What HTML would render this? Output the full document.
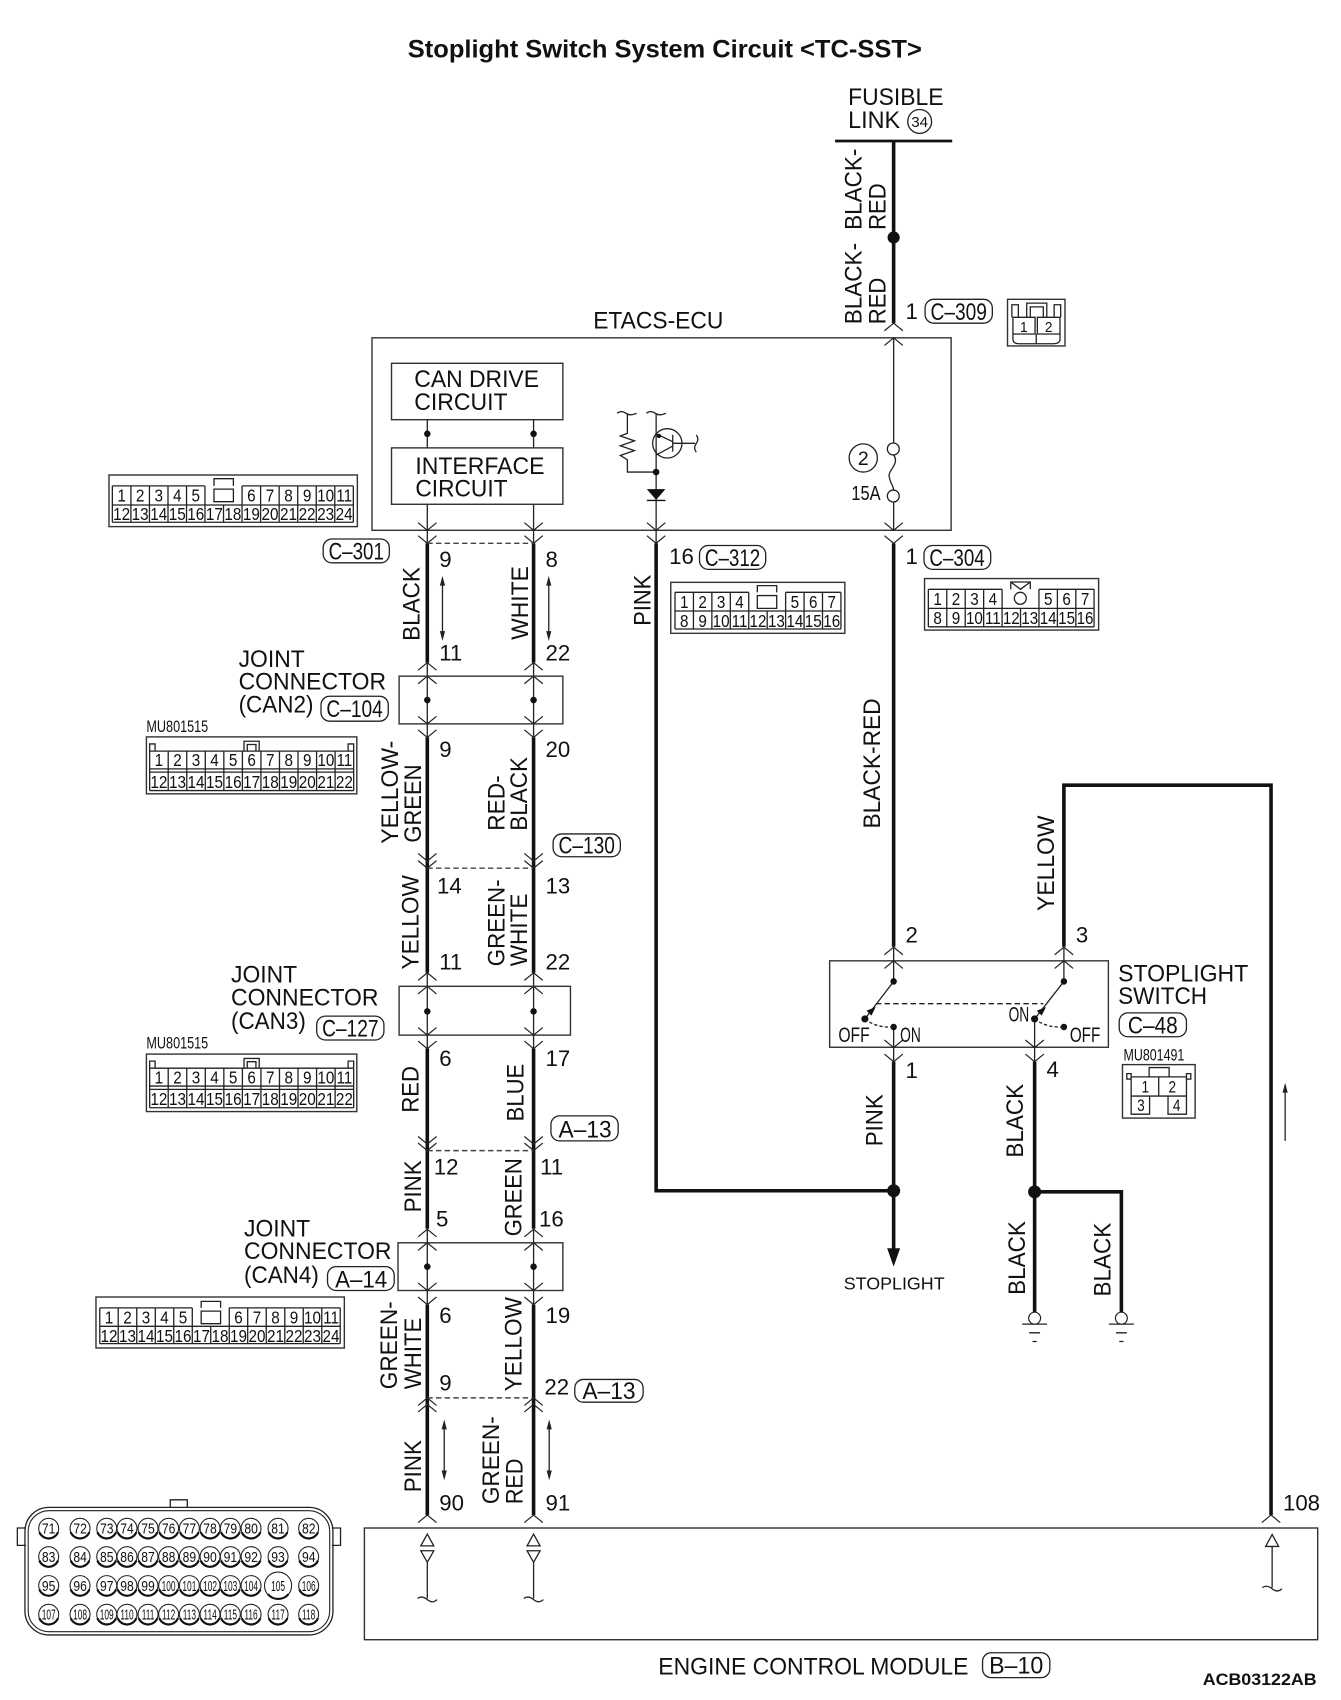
<!DOCTYPE html>
<html><head><meta charset="utf-8"><title>Stoplight Switch System Circuit</title>
<style>
html,body{margin:0;padding:0;background:#fff}
svg{display:block;position:absolute;left:0;top:0}
text{font-family:"Liberation Sans",sans-serif;fill:#111}
.l{font-size:22px}
.n{font-size:20.5px;transform:translateY(-1px)}
.t{font-size:22px}
.c{font-size:16.5px;text-anchor:middle}
.e{font-size:14px;text-anchor:middle}
.thin{fill:none;stroke:#222;stroke-width:1.2}
.box{fill:none;stroke:#333;stroke-width:1.3}
.hv{fill:none;stroke:#111;stroke-width:3.3}
.ch{fill:none;stroke:#222;stroke-width:1.1}
.tag{fill:none;stroke:#222;stroke-width:1.2}
.dash{fill:none;stroke:#444;stroke-width:1.3;stroke-dasharray:5 3}
</style></head><body>
<svg xmlns="http://www.w3.org/2000/svg" width="1341" height="1700" viewBox="0 0 1236.5 1567.6" preserveAspectRatio="none">
<defs>
<path id="d" class="ch" d="M-8.5-7L0 0L8.5-7"/>
<path id="u" class="ch" d="M-8.5 7L0 0L8.5 7"/>
<g id="pin"><circle r="9.2" fill="#fff" stroke="#222" stroke-width="1"/><path d="M-8.6 3.6A9.3 9.3 0 0 0 8.6 3.6" fill="none" stroke="#111" stroke-width="2"/></g>
<g id="gnd"><circle cx="0" cy="-5.5" r="5.5" fill="#fff" stroke="#222" stroke-width="1.1"/><path d="M-11.5 0H11.5M-5 8H5M-2 16H2" stroke="#222" stroke-width="1.2" fill="none"/></g>
</defs>
<rect width="1236.5" height="1567.6" fill="#fff"/>

<!-- Title -->
<text x="376" y="53" font-size="23" font-weight="bold" textLength="474" lengthAdjust="spacingAndGlyphs">Stoplight Switch System Circuit &lt;TC-SST&gt;</text>

<!-- Fusible link -->
<text class="l" x="782" y="97" textLength="88" lengthAdjust="spacingAndGlyphs">FUSIBLE</text>
<text class="l" x="782" y="118" textLength="48" lengthAdjust="spacingAndGlyphs">LINK</text>
<circle cx="848" cy="112" r="11" class="thin"/>
<text x="848" y="117" font-size="14" text-anchor="middle">34</text>
<path d="M770 130H878" stroke="#111" stroke-width="2.6"/>
<path class="hv" d="M824 130V298"/>
<circle cx="824" cy="219" r="5.6" fill="#111"/>
<text class="l" transform="translate(794.5,212) rotate(-90)" textLength="75" lengthAdjust="spacingAndGlyphs">BLACK-</text>
<text class="l" transform="translate(816.5,212) rotate(-90)" textLength="43" lengthAdjust="spacingAndGlyphs">RED</text>
<text class="l" transform="translate(794.5,299) rotate(-90)" textLength="75" lengthAdjust="spacingAndGlyphs">BLACK-</text>
<text class="l" transform="translate(816.5,299) rotate(-90)" textLength="43" lengthAdjust="spacingAndGlyphs">RED</text>
<text class="n" x="835" y="295">1</text>
<rect class="tag" x="853" y="276" width="62" height="22" rx="8"/>
<text class="t" x="858" y="295" textLength="52" lengthAdjust="spacingAndGlyphs">C–309</text>

<!-- C-309 connector -->
<rect class="box" x="929" y="276" width="53" height="43"/>
<path class="thin" d="M934 292.6H954.4V308H934ZM956.5 292.6H977.4V308H956.5ZM934 308V313Q934 317 940 317H971Q977.4 317 977.4 313V308M955.5 308V317M946.7 292.6V279.5H965.2V292.6M950 292.6V283H962V292.6M933 292.6V281H939V292.6M972 292.6V281H978V292.6"/>
<text x="944" y="306" font-size="14" text-anchor="middle" textLength="7" lengthAdjust="spacingAndGlyphs">1</text>
<text x="967" y="306" font-size="14" text-anchor="middle" textLength="7" lengthAdjust="spacingAndGlyphs">2</text>

<!-- ETACS-ECU -->
<text class="l" x="547" y="303" textLength="120" lengthAdjust="spacingAndGlyphs">ETACS-ECU</text>
<rect class="box" x="343" y="311.5" width="534" height="177.5"/>
<rect class="box" x="361" y="335" width="158" height="52"/>
<rect class="box" x="361" y="413" width="158" height="52"/>
<text class="l" x="382" y="357" textLength="115" lengthAdjust="spacingAndGlyphs">CAN DRIVE</text>
<text class="l" x="382" y="378" textLength="86" lengthAdjust="spacingAndGlyphs">CIRCUIT</text>
<text class="l" x="383" y="437" textLength="119" lengthAdjust="spacingAndGlyphs">INTERFACE</text>
<text class="l" x="383" y="458" textLength="85" lengthAdjust="spacingAndGlyphs">CIRCUIT</text>
<path class="thin" d="M394 387V413M492 387V413M394 465V501M492 465V501"/>
<circle cx="394" cy="400" r="3" fill="#111"/><circle cx="492" cy="400" r="3" fill="#111"/>

<!-- transistor section -->
<path class="thin" d="M569 381Q573 378 577 381T587 381M596 381Q600 378 604 381T614 381M578.5 382V399.5L572 402L585 406.5L572 411L585 415.5L572 420L578.5 424V435.3H605M605 382V501"/>
<circle cx="605" cy="435.3" r="3" fill="#111"/>
<circle cx="615.3" cy="408.8" r="13.5" class="thin"/>
<path class="thin" d="M605 400L620.3 407.3M605 419.6L620.3 411.3M620.3 401V416.5M620.3 408.8H641M642 401Q645 405 642 409T642 417"/>
<circle cx="607.6" cy="402" r="2" fill="#111"/>
<path d="M596.4 451H613.6L605 461Z" fill="#111"/><path d="M596.4 461.5H613.6" stroke="#111" stroke-width="1.3"/>

<!-- fuse -->
<path class="thin" d="M824 311V408.5M824 463V489"/>
<circle cx="823.7" cy="414" r="5.5" class="thin"/><circle cx="823.7" cy="457.4" r="5.5" class="thin"/>
<path class="thin" d="M824 419.5C830 428 818 434 820 440C821 446 824 448 824 452"/>
<circle cx="796" cy="422.3" r="13" class="thin"/>
<text x="796" y="429" font-size="18" text-anchor="middle">2</text>
<text x="785" y="461" font-size="19" textLength="27" lengthAdjust="spacingAndGlyphs">15A</text>

<!-- chevrons top/bottom ECU -->
<use href="#u" x="824" y="298"/><use href="#u" x="824" y="311.5"/>
<use href="#d" x="394" y="489"/><use href="#d" x="394" y="501"/>
<use href="#d" x="492" y="489"/><use href="#d" x="492" y="501"/>
<use href="#d" x="605" y="489"/><use href="#d" x="605" y="501"/>
<use href="#d" x="824" y="489"/><use href="#d" x="824" y="501"/>

<!-- C-301 connector -->
<rect class="box" x="100.5" y="438" width="229" height="47.6"/>
<path class="thin" d="M103.6 448H189M223.2 448H325.8M103.6 465.7H325.8M103.6 481.6H325.8M103.6 448V481.6M120.7 448V481.6M137.8 448V481.6M154.9 448V481.6M172 448V481.6M189 448V481.6M206.1 465.7V481.6M223.2 448V481.6M240.3 448V481.6M257.4 448V481.6M274.5 448V481.6M291.6 448V481.6M308.7 448V481.6M325.8 448V481.6"/>
<path class="thin" d="M197.3 448V441.4H215.2V448M197.3 451H215.2V462.6H197.3Z"/>
<g transform="translate(103.6,0) scale(.855,1)">
<text class="c" x="10" y="462.5">1</text><text class="c" x="30" y="462.5">2</text><text class="c" x="50" y="462.5">3</text><text class="c" x="70" y="462.5">4</text><text class="c" x="90" y="462.5">5</text><text class="c" x="150" y="462.5">6</text><text class="c" x="170" y="462.5">7</text><text class="c" x="190" y="462.5">8</text><text class="c" x="210" y="462.5">9</text><text class="c" x="230" y="462.5">10</text><text class="c" x="250" y="462.5">11</text>
<text class="c" x="10" y="479.5">12</text><text class="c" x="30" y="479.5">13</text><text class="c" x="50" y="479.5">14</text><text class="c" x="70" y="479.5">15</text><text class="c" x="90" y="479.5">16</text><text class="c" x="110" y="479.5">17</text><text class="c" x="130" y="479.5">18</text><text class="c" x="150" y="479.5">19</text><text class="c" x="170" y="479.5">20</text><text class="c" x="190" y="479.5">21</text><text class="c" x="210" y="479.5">22</text><text class="c" x="230" y="479.5">23</text><text class="c" x="250" y="479.5">24</text>
</g>

<!-- Main CAN wires -->
<path class="hv" d="M394 501V611M394 680V897M394 967V1133M394 1203V1397M492 501V611M492 680V897M492 967V1133M492 1203V1397"/>
<path class="thin" d="M394 611V680M394 897V967M394 1133V1203M492 611V680M492 897V967M492 1133V1203"/>
<path class="dash" d="M394 501H492M394 800.6H492M394 1061H492M394 1289H492"/>

<rect class="tag" x="298" y="497" width="61" height="22" rx="8"/>
<text class="t" x="303" y="516" textLength="51" lengthAdjust="spacingAndGlyphs">C–301</text>
<text class="n" x="405" y="524">9</text><text class="n" x="503" y="524">8</text>
<text class="l" transform="translate(387,591) rotate(-90)" textLength="68" lengthAdjust="spacingAndGlyphs">BLACK</text>
<text class="l" transform="translate(487,590) rotate(-90)" textLength="68" lengthAdjust="spacingAndGlyphs">WHITE</text>
<path class="thin" d="M408 534V588M506 534V588"/>
<path d="M408 531L405.6 540H410.4ZM408 591L405.6 582H410.4ZM506 531L503.6 540H508.4ZM506 591L503.6 582H508.4Z" fill="#222"/>
<text class="n" x="405" y="610">11</text><text class="n" x="503" y="610">22</text>

<!-- Joint C-104 -->
<use href="#u" x="394" y="611"/><use href="#u" x="394" y="623.5"/><use href="#u" x="492" y="611"/><use href="#u" x="492" y="623.5"/>
<rect class="box" x="368" y="623.5" width="151" height="44"/>
<circle cx="394" cy="645.5" r="3" fill="#111"/><circle cx="492" cy="645.5" r="3" fill="#111"/>
<use href="#d" x="394" y="667.5"/><use href="#d" x="394" y="680"/><use href="#d" x="492" y="667.5"/><use href="#d" x="492" y="680"/>
<text class="l" x="220" y="615" textLength="61" lengthAdjust="spacingAndGlyphs">JOINT</text>
<text class="l" x="220" y="636" textLength="136" lengthAdjust="spacingAndGlyphs">CONNECTOR</text>
<text class="l" x="220" y="657" textLength="69" lengthAdjust="spacingAndGlyphs">(CAN2)</text>
<rect class="tag" x="296" y="642" width="62" height="23" rx="8"/>
<text class="t" x="301" y="661" textLength="52" lengthAdjust="spacingAndGlyphs">C–104</text>

<!-- MU801515 (1) -->
<text x="135" y="675" font-size="15" textLength="57" lengthAdjust="spacingAndGlyphs">MU801515</text>
<rect class="box" x="135" y="679.5" width="194" height="52.5"/>
<path class="thin" d="M138 692.6H326.1M138 709H326.1M138 712H326.1M138 729H326.1M138 692.6V729M155.1 692.6V729M172.2 692.6V729M189.3 692.6V729M206.4 692.6V729M223.5 692.6V729M240.6 692.6V729M257.7 692.6V729M274.8 692.6V729M291.9 692.6V729M309 692.6V729M326.1 692.6V729"/>
<path class="thin" d="M225 692.6V683.5H239V692.6M228 692.6V686.5H236V692.6M138 692.6V686H143V692.6M321 692.6V686H326.1V692.6"/>
<g transform="translate(138,0) scale(.855,1)">
<text class="c" x="10" y="706.5">1</text><text class="c" x="30" y="706.5">2</text><text class="c" x="50" y="706.5">3</text><text class="c" x="70" y="706.5">4</text><text class="c" x="90" y="706.5">5</text><text class="c" x="110" y="706.5">6</text><text class="c" x="130" y="706.5">7</text><text class="c" x="150" y="706.5">8</text><text class="c" x="170" y="706.5">9</text><text class="c" x="190" y="706.5">10</text><text class="c" x="210" y="706.5">11</text>
<text class="c" x="10" y="726.5">12</text><text class="c" x="30" y="726.5">13</text><text class="c" x="50" y="726.5">14</text><text class="c" x="70" y="726.5">15</text><text class="c" x="90" y="726.5">16</text><text class="c" x="110" y="726.5">17</text><text class="c" x="130" y="726.5">18</text><text class="c" x="150" y="726.5">19</text><text class="c" x="170" y="726.5">20</text><text class="c" x="190" y="726.5">21</text><text class="c" x="210" y="726.5">22</text>
</g>

<text class="n" x="405" y="699">9</text><text class="n" x="503" y="699">20</text>
<text class="l" transform="translate(367,778) rotate(-90)" textLength="95" lengthAdjust="spacingAndGlyphs">YELLOW-</text>
<text class="l" transform="translate(388,777) rotate(-90)" textLength="72" lengthAdjust="spacingAndGlyphs">GREEN</text>
<text class="l" transform="translate(465,766) rotate(-90)" textLength="51" lengthAdjust="spacingAndGlyphs">RED-</text>
<text class="l" transform="translate(486,766) rotate(-90)" textLength="68" lengthAdjust="spacingAndGlyphs">BLACK</text>
<rect class="tag" x="510" y="769" width="62" height="21" rx="8"/>
<text class="t" x="515" y="787" textLength="52" lengthAdjust="spacingAndGlyphs">C–130</text>
<use href="#d" x="394" y="794"/><use href="#d" x="394" y="800.6"/><use href="#d" x="492" y="794"/><use href="#d" x="492" y="800.6"/>
<text class="n" x="403" y="825">14</text><text class="n" x="503" y="825">13</text>
<text class="l" transform="translate(386,894) rotate(-90)" textLength="87" lengthAdjust="spacingAndGlyphs">YELLOW</text>
<text class="l" transform="translate(465,891) rotate(-90)" textLength="80" lengthAdjust="spacingAndGlyphs">GREEN-</text>
<text class="l" transform="translate(486,891) rotate(-90)" textLength="67" lengthAdjust="spacingAndGlyphs">WHITE</text>
<text class="n" x="405" y="895">11</text><text class="n" x="503" y="895">22</text>

<!-- Joint C-127 -->
<use href="#u" x="394" y="897"/><use href="#u" x="394" y="909.5"/><use href="#u" x="492" y="897"/><use href="#u" x="492" y="909.5"/>
<rect class="box" x="368" y="909.5" width="158" height="45"/>
<circle cx="394" cy="932.6" r="3" fill="#111"/><circle cx="492" cy="932.6" r="3" fill="#111"/>
<use href="#d" x="394" y="954.5"/><use href="#d" x="394" y="967"/><use href="#d" x="492" y="954.5"/><use href="#d" x="492" y="967"/>
<text class="l" x="213" y="906" textLength="61" lengthAdjust="spacingAndGlyphs">JOINT</text>
<text class="l" x="213" y="927" textLength="136" lengthAdjust="spacingAndGlyphs">CONNECTOR</text>
<text class="l" x="213" y="949" textLength="69" lengthAdjust="spacingAndGlyphs">(CAN3)</text>
<rect class="tag" x="292" y="937" width="62" height="22" rx="8"/>
<text class="t" x="297" y="956" textLength="52" lengthAdjust="spacingAndGlyphs">C–127</text>

<!-- MU801515 (2) -->
<text x="135" y="967" font-size="15" textLength="57" lengthAdjust="spacingAndGlyphs">MU801515</text>
<rect class="box" x="135" y="972" width="194" height="53"/>
<path class="thin" d="M138 985H326.1M138 1001.5H326.1M138 1004.5H326.1M138 1021.5H326.1M138 985V1021.5M155.1 985V1021.5M172.2 985V1021.5M189.3 985V1021.5M206.4 985V1021.5M223.5 985V1021.5M240.6 985V1021.5M257.7 985V1021.5M274.8 985V1021.5M291.9 985V1021.5M309 985V1021.5M326.1 985V1021.5"/>
<path class="thin" d="M225 985V976H239V985M228 985V979H236V985M138 985V978.5H143V985M321 985V978.5H326.1V985"/>
<g transform="translate(138,0) scale(.855,1)">
<text class="c" x="10" y="999">1</text><text class="c" x="30" y="999">2</text><text class="c" x="50" y="999">3</text><text class="c" x="70" y="999">4</text><text class="c" x="90" y="999">5</text><text class="c" x="110" y="999">6</text><text class="c" x="130" y="999">7</text><text class="c" x="150" y="999">8</text><text class="c" x="170" y="999">9</text><text class="c" x="190" y="999">10</text><text class="c" x="210" y="999">11</text>
<text class="c" x="10" y="1019">12</text><text class="c" x="30" y="1019">13</text><text class="c" x="50" y="1019">14</text><text class="c" x="70" y="1019">15</text><text class="c" x="90" y="1019">16</text><text class="c" x="110" y="1019">17</text><text class="c" x="130" y="1019">18</text><text class="c" x="150" y="1019">19</text><text class="c" x="170" y="1019">20</text><text class="c" x="190" y="1019">21</text><text class="c" x="210" y="1019">22</text>
</g>

<text class="n" x="405" y="984">6</text><text class="n" x="503" y="984">17</text>
<text class="l" transform="translate(386,1026) rotate(-90)" textLength="43" lengthAdjust="spacingAndGlyphs">RED</text>
<text class="l" transform="translate(482.5,1034) rotate(-90)" textLength="53" lengthAdjust="spacingAndGlyphs">BLUE</text>
<rect class="tag" x="508" y="1029" width="62" height="23" rx="8"/>
<text class="t" x="515" y="1049" textLength="49" lengthAdjust="spacingAndGlyphs">A–13</text>
<use href="#d" x="394" y="1055"/><use href="#d" x="394" y="1061"/><use href="#d" x="492" y="1055"/><use href="#d" x="492" y="1061"/>
<text class="n" x="400" y="1084">12</text><text class="n" x="498" y="1084">11</text>
<text class="l" transform="translate(388,1118) rotate(-90)" textLength="48" lengthAdjust="spacingAndGlyphs">PINK</text>
<text class="l" transform="translate(481,1140) rotate(-90)" textLength="72" lengthAdjust="spacingAndGlyphs">GREEN</text>
<text class="n" x="402" y="1132">5</text><text class="n" x="497" y="1132">16</text>

<!-- Joint A-14 -->
<use href="#u" x="394" y="1133.5"/><use href="#u" x="394" y="1146"/><use href="#u" x="492" y="1133.5"/><use href="#u" x="492" y="1146"/>
<rect class="box" x="367" y="1146" width="152" height="44"/>
<circle cx="394" cy="1168" r="3" fill="#111"/><circle cx="492" cy="1168" r="3" fill="#111"/>
<use href="#d" x="394" y="1190"/><use href="#d" x="394" y="1203"/><use href="#d" x="492" y="1190"/><use href="#d" x="492" y="1203"/>
<text class="l" x="225" y="1140" textLength="61" lengthAdjust="spacingAndGlyphs">JOINT</text>
<text class="l" x="225" y="1161" textLength="136" lengthAdjust="spacingAndGlyphs">CONNECTOR</text>
<text class="l" x="225" y="1183" textLength="69" lengthAdjust="spacingAndGlyphs">(CAN4)</text>
<rect class="tag" x="302" y="1168" width="61.5" height="22" rx="8"/>
<text class="t" x="309" y="1187" textLength="48" lengthAdjust="spacingAndGlyphs">A–14</text>

<!-- A-14 connector -->
<rect class="box" x="88.5" y="1196" width="229" height="47"/>
<path class="thin" d="M92 1206H177.3M211.4 1206H313.7M92 1223H313.7M92 1239H313.7M92 1206V1239M109 1206V1239M126.1 1206V1239M143.2 1206V1239M160.2 1206V1239M177.3 1206V1239M194.3 1223V1239M211.4 1206V1239M228.4 1206V1239M245.5 1206V1239M262.6 1206V1239M279.6 1206V1239M296.7 1206V1239M313.7 1206V1239"/>
<path class="thin" d="M185.5 1206V1200H203.4V1206M185.5 1209H203.4V1220.6H185.5Z"/>
<g transform="translate(92,0) scale(.853,1)">
<text class="c" x="10" y="1220.5">1</text><text class="c" x="30" y="1220.5">2</text><text class="c" x="50" y="1220.5">3</text><text class="c" x="70" y="1220.5">4</text><text class="c" x="90" y="1220.5">5</text><text class="c" x="150" y="1220.5">6</text><text class="c" x="170" y="1220.5">7</text><text class="c" x="190" y="1220.5">8</text><text class="c" x="210" y="1220.5">9</text><text class="c" x="230" y="1220.5">10</text><text class="c" x="250" y="1220.5">11</text>
<text class="c" x="10" y="1237.5">12</text><text class="c" x="30" y="1237.5">13</text><text class="c" x="50" y="1237.5">14</text><text class="c" x="70" y="1237.5">15</text><text class="c" x="90" y="1237.5">16</text><text class="c" x="110" y="1237.5">17</text><text class="c" x="130" y="1237.5">18</text><text class="c" x="150" y="1237.5">19</text><text class="c" x="170" y="1237.5">20</text><text class="c" x="190" y="1237.5">21</text><text class="c" x="210" y="1237.5">22</text><text class="c" x="230" y="1237.5">23</text><text class="c" x="250" y="1237.5">24</text>
</g>

<text class="n" x="405" y="1221">6</text><text class="n" x="503" y="1221">19</text>
<text class="l" transform="translate(366,1281) rotate(-90)" textLength="81" lengthAdjust="spacingAndGlyphs">GREEN-</text>
<text class="l" transform="translate(388,1281) rotate(-90)" textLength="66" lengthAdjust="spacingAndGlyphs">WHITE</text>
<text class="l" transform="translate(481,1283) rotate(-90)" textLength="87" lengthAdjust="spacingAndGlyphs">YELLOW</text>
<text class="n" x="405" y="1283">9</text><text class="n" x="502" y="1287">22</text>
<rect class="tag" x="530" y="1272" width="63" height="21" rx="8"/>
<text class="t" x="537" y="1290" textLength="49" lengthAdjust="spacingAndGlyphs">A–13</text>
<use href="#u" x="394" y="1289"/><use href="#u" x="394" y="1295"/><use href="#u" x="492" y="1289"/><use href="#u" x="492" y="1295"/>
<path class="thin" d="M409.6 1312V1362M506.4 1312V1362"/>
<path d="M409.6 1309L407.2 1318H412ZM409.6 1365L407.2 1356H412ZM506.4 1309L504 1318H508.8ZM506.4 1365L504 1356H508.8Z" fill="#222"/>
<text class="l" transform="translate(388,1376) rotate(-90)" textLength="48" lengthAdjust="spacingAndGlyphs">PINK</text>
<text class="l" transform="translate(460,1387) rotate(-90)" textLength="81" lengthAdjust="spacingAndGlyphs">GREEN-</text>
<text class="l" transform="translate(482,1387) rotate(-90)" textLength="42" lengthAdjust="spacingAndGlyphs">RED</text>
<text class="n" x="405" y="1394">90</text><text class="n" x="503" y="1394">91</text>

<!-- PINK long wire -->
<path class="hv" d="M605 501V1098H824"/>
<text class="l" transform="translate(600,577) rotate(-90)" textLength="47" lengthAdjust="spacingAndGlyphs">PINK</text>
<text class="n" x="617" y="521">16</text>
<rect class="tag" x="645" y="503" width="61" height="22" rx="8"/>
<text class="t" x="650" y="522" textLength="51" lengthAdjust="spacingAndGlyphs">C–312</text>

<!-- C-312 connector -->
<rect class="box" x="618.5" y="537" width="160.5" height="47"/>
<path class="thin" d="M622.4 546.2H690.4M724.4 546.2H775.4M622.4 563.4H775.4M622.4 580H775.4M622.4 546.2V580M639.4 546.2V580M656.4 546.2V580M673.4 546.2V580M690.4 546.2V580M707.4 563.4V580M724.4 546.2V580M741.4 546.2V580M758.4 546.2V580M775.4 546.2V580"/>
<path class="thin" d="M698.3 546.2V540H716.2V546.2M698.3 549.2H716.2V561H698.3Z"/>
<g transform="translate(622.4,0) scale(.85,1)">
<text class="c" x="10" y="560.5">1</text><text class="c" x="30" y="560.5">2</text><text class="c" x="50" y="560.5">3</text><text class="c" x="70" y="560.5">4</text><text class="c" x="130" y="560.5">5</text><text class="c" x="150" y="560.5">6</text><text class="c" x="170" y="560.5">7</text>
<text class="c" x="10" y="578">8</text><text class="c" x="30" y="578">9</text><text class="c" x="50" y="578">10</text><text class="c" x="70" y="578">11</text><text class="c" x="90" y="578">12</text><text class="c" x="110" y="578">13</text><text class="c" x="130" y="578">14</text><text class="c" x="150" y="578">15</text><text class="c" x="170" y="578">16</text>
</g>

<!-- 824 wire -->
<path class="hv" d="M824 501V873M824 979V1152"/>
<text class="n" x="835" y="521">1</text>
<rect class="tag" x="852" y="503" width="61.5" height="22" rx="8"/>
<text class="t" x="857" y="522" textLength="51" lengthAdjust="spacingAndGlyphs">C–304</text>

<!-- C-304 connector -->
<rect class="box" x="852.5" y="533.5" width="160.5" height="47.5"/>
<path class="thin" d="M856 543.4H924M958 543.4H1008.8M856 561H1008.8M856 578H1008.8M856 543.4V578M873 543.4V578M890 543.4V578M907 543.4V578M924 543.4V578M941 561V578M958 543.4V578M975 543.4V578M992 543.4V578M1008.8 543.4V578"/>
<path class="thin" d="M932 543.4V536.7H950V543.4M932 536.7L941 543.4L950 536.7"/>
<circle cx="940.8" cy="551.7" r="5.5" class="thin"/>
<g transform="translate(856,0) scale(.85,1)">
<text class="c" x="10" y="558">1</text><text class="c" x="30" y="558">2</text><text class="c" x="50" y="558">3</text><text class="c" x="70" y="558">4</text><text class="c" x="130" y="558">5</text><text class="c" x="150" y="558">6</text><text class="c" x="170" y="558">7</text>
<text class="c" x="10" y="575.5">8</text><text class="c" x="30" y="575.5">9</text><text class="c" x="50" y="575.5">10</text><text class="c" x="70" y="575.5">11</text><text class="c" x="90" y="575.5">12</text><text class="c" x="110" y="575.5">13</text><text class="c" x="130" y="575.5">14</text><text class="c" x="150" y="575.5">15</text><text class="c" x="170" y="575.5">16</text>
</g>

<text class="l" transform="translate(811.5,764) rotate(-90)" textLength="120" lengthAdjust="spacingAndGlyphs">BLACK-RED</text>

<!-- Yellow wire -->
<path class="hv" d="M981 873V724H1172V1397"/>
<text class="l" transform="translate(972,840) rotate(-90)" textLength="88" lengthAdjust="spacingAndGlyphs">YELLOW</text>

<!-- Stoplight switch -->
<text class="n" x="835" y="870">2</text><text class="n" x="992" y="870">3</text>
<use href="#u" x="824" y="873.4"/><use href="#u" x="824" y="886"/><use href="#u" x="981" y="873.4"/><use href="#u" x="981" y="886"/>
<rect class="box" x="765" y="886" width="257" height="79.7"/>
<path class="thin" d="M824 873V905M981 873V905M824 905L797.5 939.6M981 905L954 939.6M824 947V979M954 939.6V979"/>
<circle cx="824" cy="905" r="3" fill="#111"/><circle cx="981" cy="905" r="3" fill="#111"/>
<circle cx="797.5" cy="939.6" r="3.3" fill="#111"/><circle cx="954" cy="939.6" r="3.3" fill="#111"/>
<circle cx="824" cy="947" r="3" fill="#111"/><circle cx="981" cy="947" r="3" fill="#111"/>
<path d="M799 932L807.5 928.5L803.5 936.5ZM956 932L964.5 928.5L960.5 936.5Z" fill="#111"/>
<path class="thin" stroke-dasharray="5 3" d="M807.6 925.5H962"/>
<path class="thin" stroke-dasharray="3 2" d="M797.5 939.6Q808 948 824 947M954 939.6Q965 948 981 947"/>
<text x="773" y="961" font-size="20" textLength="29" lengthAdjust="spacingAndGlyphs">OFF</text>
<text x="830" y="961" font-size="20" textLength="19" lengthAdjust="spacingAndGlyphs">ON</text>
<text x="930" y="942" font-size="20" textLength="19" lengthAdjust="spacingAndGlyphs">ON</text>
<text x="986.5" y="961" font-size="20" textLength="28" lengthAdjust="spacingAndGlyphs">OFF</text>
<use href="#d" x="824" y="966"/><use href="#d" x="824" y="979"/><use href="#d" x="954" y="966"/><use href="#d" x="954" y="979"/>
<text class="n" x="835" y="995">1</text><text class="n" x="965" y="994">4</text>
<text class="l" x="1031" y="905" textLength="120" lengthAdjust="spacingAndGlyphs">STOPLIGHT</text>
<text class="l" x="1031" y="926" textLength="82" lengthAdjust="spacingAndGlyphs">SWITCH</text>
<rect class="tag" x="1032" y="934" width="62" height="22" rx="8"/>
<text class="t" x="1040" y="953" textLength="46" lengthAdjust="spacingAndGlyphs">C–48</text>
<text x="1036" y="978" font-size="15" textLength="56" lengthAdjust="spacingAndGlyphs">MU801491</text>
<rect class="box" x="1035" y="981.7" width="67" height="49.3"/>
<path class="thin" d="M1043 993H1094V1010.7H1043ZM1068.4 993V1010.7M1043 1010.7V1027.4H1060V1010.7M1077 1010.7V1027.4H1094V1010.7M1059.6 993V984.4H1078V993M1039 990H1043V995H1039ZM1094 990H1098V995H1094Z"/>
<text x="1056" y="1007.5" font-size="15" text-anchor="middle" textLength="7" lengthAdjust="spacingAndGlyphs">1</text>
<text x="1081" y="1007.5" font-size="15" text-anchor="middle" textLength="7" lengthAdjust="spacingAndGlyphs">2</text>
<text x="1052" y="1024.5" font-size="15" text-anchor="middle" textLength="7" lengthAdjust="spacingAndGlyphs">3</text>
<text x="1085" y="1024.5" font-size="15" text-anchor="middle" textLength="7" lengthAdjust="spacingAndGlyphs">4</text>

<!-- below switch -->
<text class="l" transform="translate(813.5,1057) rotate(-90)" textLength="48" lengthAdjust="spacingAndGlyphs">PINK</text>
<circle cx="824" cy="1098" r="6" fill="#111"/>
<path d="M818 1151H830L824 1168Z" fill="#111"/>
<text x="778" y="1189" font-size="16.5" textLength="93" lengthAdjust="spacingAndGlyphs">STOPLIGHT</text>
<path class="hv" d="M954 979V1210M954 1099H1034V1210"/>
<circle cx="954" cy="1099" r="6" fill="#111"/>
<text class="l" transform="translate(943.5,1067.5) rotate(-90)" textLength="68" lengthAdjust="spacingAndGlyphs">BLACK</text>
<text class="l" transform="translate(945,1194) rotate(-90)" textLength="68" lengthAdjust="spacingAndGlyphs">BLACK</text>
<text class="l" transform="translate(1024,1195.5) rotate(-90)" textLength="68" lengthAdjust="spacingAndGlyphs">BLACK</text>
<use href="#gnd" x="954" y="1221"/><use href="#gnd" x="1034" y="1221"/>

<!-- small arrow -->
<path class="thin" d="M1185 1001V1052"/>
<path d="M1185 998.5L1182.6 1007.5H1187.4Z" fill="#222"/>

<!-- ECM -->
<text class="n" x="1183" y="1394">108</text>
<use href="#u" x="394" y="1397"/><use href="#u" x="492" y="1397"/><use href="#u" x="1172" y="1397"/>
<rect class="box" x="336" y="1409" width="879" height="103"/>
<path class="thin" d="M394 1414.6L388 1425.5H400ZM394 1440.6L388 1430H400ZM394 1440.6V1474M385 1474Q389 1471 394 1475T403 1475M492 1414.6L486 1425.5H498ZM492 1440.6L486 1430H498ZM492 1440.6V1474M483 1474Q487 1471 492 1475T501 1475M1173 1415L1167 1426H1179ZM1173 1426V1464M1164 1464Q1168 1461 1173 1465T1182 1465"/>
<text class="l" x="607" y="1544" textLength="286" lengthAdjust="spacingAndGlyphs">ENGINE CONTROL MODULE</text>
<rect class="tag" x="906" y="1524" width="62" height="23" rx="8"/>
<text class="t" x="912" y="1543" textLength="50" lengthAdjust="spacingAndGlyphs">B–10</text>
<text x="1109" y="1554" font-size="15" font-weight="bold" textLength="105" lengthAdjust="spacingAndGlyphs">ACB03122AB</text>

<!-- ECM connector -->
<rect x="23" y="1390" width="284" height="117.6" rx="22" fill="none" stroke="#222" stroke-width="1.2"/>
<rect x="26" y="1393" width="278" height="111.6" rx="19" fill="none" stroke="#222" stroke-width="1"/>
<path class="thin" d="M157 1390V1383H172.7V1390M24 1409H16V1425H24M306 1409H314V1425H306"/>
<g>
<use href="#pin" x="44.9" y="1409.3"/><use href="#pin" x="73.8" y="1409.3"/><use href="#pin" x="98.4" y="1409.3"/><use href="#pin" x="117.1" y="1409.3"/><use href="#pin" x="136.5" y="1409.3"/><use href="#pin" x="155.5" y="1409.3"/><use href="#pin" x="174.6" y="1409.3"/><use href="#pin" x="193.7" y="1409.3"/><use href="#pin" x="212.4" y="1409.3"/><use href="#pin" x="231.5" y="1409.3"/><use href="#pin" x="256.4" y="1409.3"/><use href="#pin" x="284.6" y="1409.3"/>
<use href="#pin" x="44.9" y="1435.4"/><use href="#pin" x="73.8" y="1435.4"/><use href="#pin" x="98.4" y="1435.4"/><use href="#pin" x="117.1" y="1435.4"/><use href="#pin" x="136.5" y="1435.4"/><use href="#pin" x="155.5" y="1435.4"/><use href="#pin" x="174.6" y="1435.4"/><use href="#pin" x="193.7" y="1435.4"/><use href="#pin" x="212.4" y="1435.4"/><use href="#pin" x="231.5" y="1435.4"/><use href="#pin" x="256.4" y="1435.4"/><use href="#pin" x="284.6" y="1435.4"/>
<use href="#pin" x="44.9" y="1462.1"/><use href="#pin" x="73.8" y="1462.1"/><use href="#pin" x="98.4" y="1462.1"/><use href="#pin" x="117.1" y="1462.1"/><use href="#pin" x="136.5" y="1462.1"/><use href="#pin" x="155.5" y="1462.1"/><use href="#pin" x="174.6" y="1462.1"/><use href="#pin" x="193.7" y="1462.1"/><use href="#pin" x="212.4" y="1462.1"/><use href="#pin" x="231.5" y="1462.1"/><use href="#pin" x="284.6" y="1462.1"/>
<circle cx="256.4" cy="1462.1" r="12.5" fill="#fff" stroke="#222" stroke-width="1"/><path d="M247 1470A12.5 12.5 0 0 0 266 1470" fill="none" stroke="#111" stroke-width="2"/>
<use href="#pin" x="44.9" y="1488.6"/><use href="#pin" x="73.8" y="1488.6"/><use href="#pin" x="98.4" y="1488.6"/><use href="#pin" x="117.1" y="1488.6"/><use href="#pin" x="136.5" y="1488.6"/><use href="#pin" x="155.5" y="1488.6"/><use href="#pin" x="174.6" y="1488.6"/><use href="#pin" x="193.7" y="1488.6"/><use href="#pin" x="212.4" y="1488.6"/><use href="#pin" x="231.5" y="1488.6"/><use href="#pin" x="256.4" y="1488.6"/><use href="#pin" x="284.6" y="1488.6"/>
</g>
<g transform="scale(.8,1)">
<text class="e" x="56.1" y="1414.3">71</text><text class="e" x="92.3" y="1414.3">72</text><text class="e" x="123" y="1414.3">73</text><text class="e" x="146.4" y="1414.3">74</text><text class="e" x="170.6" y="1414.3">75</text><text class="e" x="194.4" y="1414.3">76</text><text class="e" x="218.3" y="1414.3">77</text><text class="e" x="242.1" y="1414.3">78</text><text class="e" x="265.5" y="1414.3">79</text><text class="e" x="289.4" y="1414.3">80</text><text class="e" x="320.5" y="1414.3">81</text><text class="e" x="355.8" y="1414.3">82</text>
<text class="e" x="56.1" y="1440.4">83</text><text class="e" x="92.3" y="1440.4">84</text><text class="e" x="123" y="1440.4">85</text><text class="e" x="146.4" y="1440.4">86</text><text class="e" x="170.6" y="1440.4">87</text><text class="e" x="194.4" y="1440.4">88</text><text class="e" x="218.3" y="1440.4">89</text><text class="e" x="242.1" y="1440.4">90</text><text class="e" x="265.5" y="1440.4">91</text><text class="e" x="289.4" y="1440.4">92</text><text class="e" x="320.5" y="1440.4">93</text><text class="e" x="355.8" y="1440.4">94</text>
<text class="e" x="56.1" y="1467">95</text><text class="e" x="92.3" y="1467">96</text><text class="e" x="123" y="1467">97</text><text class="e" x="146.4" y="1467">98</text><text class="e" x="170.6" y="1467">99</text>
</g>
<g transform="scale(.55,1)">
<text class="e" x="282.7" y="1467">100</text><text class="e" x="317.5" y="1467">101</text><text class="e" x="352.2" y="1467">102</text><text class="e" x="386.2" y="1467">103</text><text class="e" x="420.9" y="1467">104</text><text class="e" x="466.2" y="1467">105</text><text class="e" x="517.5" y="1467">106</text>
<text class="e" x="81.6" y="1493.6">107</text><text class="e" x="134.2" y="1493.6">108</text><text class="e" x="178.9" y="1493.6">109</text><text class="e" x="212.9" y="1493.6">110</text><text class="e" x="248.2" y="1493.6">111</text><text class="e" x="282.7" y="1493.6">112</text><text class="e" x="317.5" y="1493.6">113</text><text class="e" x="352.2" y="1493.6">114</text><text class="e" x="386.2" y="1493.6">115</text><text class="e" x="420.9" y="1493.6">116</text><text class="e" x="466.2" y="1493.6">117</text><text class="e" x="517.5" y="1493.6">118</text>
</g>
</svg>
</body></html>
